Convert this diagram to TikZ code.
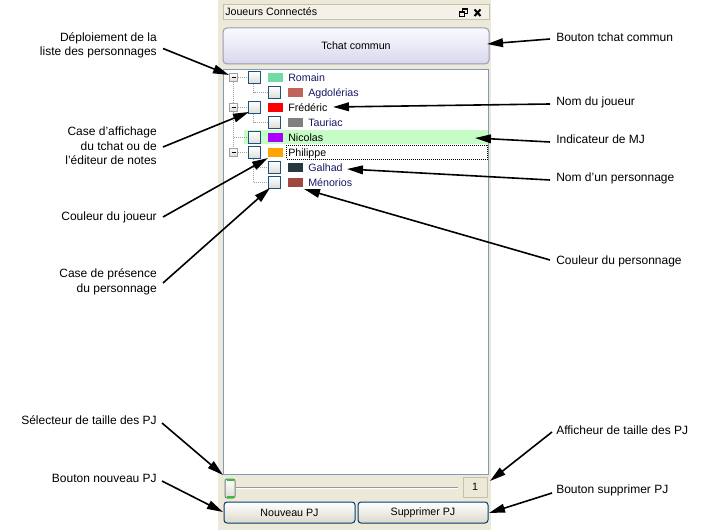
\documentclass[tikz,border=0pt]{standalone}
\usepackage{fontspec}
\setmainfont{Liberation Sans}
\usetikzlibrary{arrows.meta,calc}
\definecolor{panel}{HTML}{ECE9D8}
\definecolor{titleb}{HTML}{C4C0AC}
\definecolor{btnb}{HTML}{9A9AB8}
\definecolor{btntop}{HTML}{FAFAFF}
\definecolor{btnbot}{HTML}{D8D8EE}
\definecolor{listb}{HTML}{7F9DB9}
\definecolor{cbb}{HTML}{1C5180}
\definecolor{cbbot}{HTML}{DCDCD4}
\definecolor{navy}{HTML}{18186A}
\definecolor{dots}{HTML}{A0A0A0}
\definecolor{mjgreen}{HTML}{C6FCC6}
\definecolor{xpb}{HTML}{003C74}
\definecolor{c-romain}{HTML}{6FDCA6}
\definecolor{c-agdo}{HTML}{C0635A}
\definecolor{c-fred}{HTML}{FF0000}
\definecolor{c-taur}{HTML}{808080}
\definecolor{c-nico}{HTML}{AA00FF}
\definecolor{c-phil}{HTML}{FFA500}
\definecolor{c-galh}{HTML}{27393F}
\definecolor{c-meno}{HTML}{A0483F}
\tikzset{
  lbl/.style={font=\fontsize{9}{10.9}\selectfont, inner sep=0pt},
  lblL/.style={lbl, anchor=east, align=right},
  lblR/.style={lbl, anchor=west, align=left},
  wtxt/.style={font=\fontsize{8}{9.6}\selectfont, inner sep=0pt},
  rowtxt/.style={wtxt, anchor=base west},
  cbox/.style={draw=cbb, line width=0.75pt, minimum size=9pt, inner sep=0pt, top color=white, bottom color=cbbot},
  swatch/.style={minimum width=11.25pt, minimum height=6.75pt, inner sep=0pt},
  expander/.style={draw=dots, line width=0.75pt, minimum size=6.5pt, inner sep=0pt, top color=white, bottom color=cbbot},
  treeline/.style={draw=dots, line width=0.75pt, dash pattern=on 0.75pt off 0.75pt},
  xpbtn/.style={draw=xpb, line width=0.75pt, rounded corners=2.25pt, top color=white, bottom color=panel!85!gray, minimum height=15.75pt, inner sep=0pt, font=\fontsize{8}{9.6}\selectfont},
  arr/.style={-{Triangle[length=12pt,width=6.5pt]}, line width=1.2pt, black}
}
\begin{document}
\begin{tikzpicture}[x=0.75pt,y=-0.75pt]
\useasboundingbox (0,0) rectangle (709,530);
\fill[white] (0,0) rectangle (709,530);
% panel
\fill[panel] (218,0) rectangle (491,530);
% title bar
\draw[titleb, line width=0.75pt, fill=panel!60!white] (223.5,4.5) rectangle (489.5,19.5);
\node[wtxt, anchor=base west] (title) at (225,16) {Joueurs Connectés};
% restore icon
\draw[line width=0.75pt] (462,9) rectangle (467.5,14);
\draw[line width=1.5pt] (462,9.5) -- (467.5,9.5);
\filldraw[fill=panel!60!white, line width=0.75pt] (459,12) rectangle (464.5,17);
\draw[line width=1.5pt] (459,12.5) -- (464.5,12.5);
% close icon
\draw[line width=1.5pt] (474.5,9.5) -- (480.5,16) (474.5,16) -- (480.5,9.5);
% tchat commun button
\node[draw=btnb, line width=0.75pt, rounded corners=3pt, top color=btntop, bottom color=btnbot,
      minimum width=199.5pt, minimum height=27pt, inner sep=0pt, font=\fontsize{8}{9.6}\selectfont]
      (tchat) at (356,46) {Tchat commun};
% list
\filldraw[fill=white, draw=listb, line width=0.75pt] (223.5,69.5) rectangle (488.5,474.5);
% MJ highlight
\fill[mjgreen] (244,130) rectangle (488,144.5);
% Philippe focus
\draw[line width=0.75pt, dash pattern=on 0.75pt off 0.75pt] (286.5,145.5) rectangle (487.5,159.5);
% tree lines
\draw[treeline] (233.5,82) -- (233.5,103);
\draw[treeline] (233.5,112) -- (233.5,148);
\draw[treeline] (238,77.5) -- (248,77.5);
\draw[treeline] (238,107.5) -- (248,107.5);
\draw[treeline] (238,152.5) -- (248,152.5);
\draw[treeline] (233.5,137.5) -- (248,137.5);
\draw[treeline] (253.5,84) -- (253.5,92.5) -- (268,92.5);
\draw[treeline] (253.5,114) -- (253.5,122.5) -- (268,122.5);
\draw[treeline] (253.5,159) -- (253.5,182.5) -- (268,182.5);
\draw[treeline] (253.5,167.5) -- (268,167.5);
% expanders
\foreach \n/\y in {exR/77.5, exF/107.5, exP/152.5}{
  \node[expander] (\n) at (233.5,\y) {};
  \draw[line width=0.75pt] (231.5,\y) -- (235.5,\y);
}
% top-level rows
\node[cbox] (cbR) at (254.5,78) {};
\node[swatch, fill=c-romain] (swR) at (275.5,77.5) {};
\node[rowtxt, text=navy] (txR) at (288,81.5) {Romain};
\node[cbox] (cbF) at (254.5,108) {};
\node[swatch, fill=c-fred] (swF) at (275.5,107.5) {};
\node[rowtxt] (txF) at (288,111.5) {Frédéric};
\node[cbox] (cbN) at (254.5,138) {};
\node[swatch, fill=c-nico] (swN) at (275.5,137.5) {};
\node[rowtxt] (txN) at (288,141.5) {Nicolas};
\node[cbox] (cbP) at (254.5,153) {};
\node[swatch, fill=c-phil] (swP) at (275.5,152.5) {};
\node[rowtxt] (txP) at (288,156.5) {Philippe};
% child rows
\node[cbox] (cbA) at (274,92.5) {};
\node[swatch, fill=c-agdo] (swA) at (295.5,92.5) {};
\node[rowtxt, text=navy] (txA) at (308,96.5) {Agdolérias};
\node[cbox] (cbT) at (274,122.5) {};
\node[swatch, fill=c-taur] (swT) at (295.5,122.5) {};
\node[rowtxt, text=navy] (txT) at (308,126.5) {Tauriac};
\node[cbox] (cbG) at (274,167.5) {};
\node[swatch, fill=c-galh] (swG) at (295.5,167.5) {};
\node[rowtxt, text=navy] (txG) at (308,171.5) {Galhad};
\node[cbox] (cbM) at (274,182.5) {};
\node[swatch, fill=c-meno] (swM) at (295.5,182.5) {};
\node[rowtxt, text=navy] (txM) at (308,186.5) {Ménorios};
% slider
\draw[gray!80, line width=0.75pt] (236,487.5) -- (458,487.5);
\draw[white, line width=0.75pt] (236,488.5) -- (458,488.5);
\node[draw=gray, line width=0.75pt, rounded corners=1.5pt, top color=white, bottom color=cbbot,
      minimum width=7.5pt, minimum height=14.25pt, inner sep=0pt] (handle) at (230,488.5) {};
\draw[green!70!black!80, line width=1.2pt] (226.5,480) -- (233.5,480) (226.5,497) -- (233.5,497);
\node[draw=titleb, line width=0.75pt, fill=panel, minimum width=18pt, minimum height=15pt,
      inner sep=0pt, font=\fontsize{8}{9.6}\selectfont] (size) at (475,487) {1};
% buttons
\node[xpbtn, minimum width=98.25pt] (nouveau) at (289.5,512.5) {Nouveau PJ};
\node[xpbtn, minimum width=97.5pt] (suppr) at (423,512.5) {Supprimer PJ};
% labels left
\node[lblL] (dep) at (157,45.5) {Déploiement de la\\liste des personnages};
\node[lblL] (caf) at (157,146) {Case d’affichage\\du tchat ou de\\l’éditeur de notes};
\node[lblL] (cj) at (157,217) {Couleur du joueur};
\node[lblL] (cp) at (157,282) {Case de présence\\du personnage};
\node[lblL] (sel) at (157,420) {Sélecteur de taille des PJ};
\node[lblL] (bn) at (157,478) {Bouton nouveau PJ};
% labels right
\node[lblR] (btc) at (556,37) {Bouton tchat commun};
\node[lblR] (ndj) at (556,102) {Nom du joueur};
\node[lblR] (imj) at (556,139) {Indicateur de MJ};
\node[lblR] (ndp) at (556,178) {Nom d’un personnage};
\node[lblR] (cdp) at (556,261) {Couleur du personnage};
\node[lblR] (aff) at (556,430) {Afficheur de taille des PJ};
\node[lblR] (bsp) at (556,490) {Bouton supprimer PJ};
% arrow tips
\coordinate (t-dep) at (229,75);
\coordinate (t-caf) at (249,112);
\coordinate (t-cj) at (268,158);
\coordinate (t-cp) at (270,188);
\coordinate (t-sel) at (223,475);
\coordinate (t-bn) at (223,512);
\coordinate (t-btc) at (487,44);
\coordinate (t-ndj) at (333,107);
\coordinate (t-imj) at (475,138);
\coordinate (t-ndp) at (347,169);
\coordinate (t-cdp) at (304,189);
\coordinate (t-aff) at (490,481);
\coordinate (t-bsp) at (489,513);
% arrows
\draw[arr] ($(dep.east)+(6,3)$) -- (t-dep);
\draw[arr] ($(caf.east)+(6,1)$) -- (t-caf);
\draw[arr] ($(cj.east)+(6,0)$) -- (t-cj);
\draw[arr] ($(cp.east)+(6,1)$) -- (t-cp);
\draw[arr] ($(sel.east)+(5,3)$) -- (t-sel);
\draw[arr] ($(bn.east)+(5,3)$) -- (t-bn);
\draw[arr] ($(btc.west)+(-6,2)$) -- (t-btc);
\draw[arr] ($(ndj.west)+(-6,2)$) -- (t-ndj);
\draw[arr] ($(imj.west)+(-6,3)$) -- (t-imj);
\draw[arr] ($(ndp.west)+(-6,2)$) -- (t-ndp);
\draw[arr] ($(cdp.west)+(-6,-1)$) -- (t-cdp);
\draw[arr] ($(aff.west)+(-4,2)$) -- (t-aff);
\draw[arr] ($(bsp.west)+(-4,3)$) -- (t-bsp);
\end{tikzpicture}
\end{document}
